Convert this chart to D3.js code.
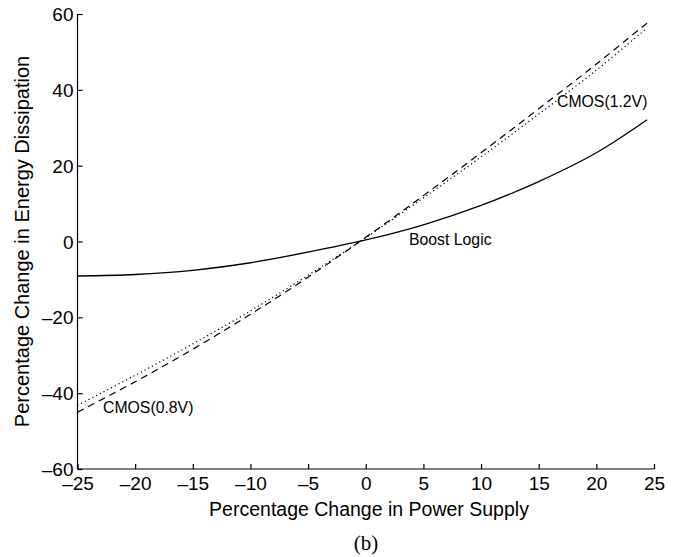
<!DOCTYPE html>
<html>
<head>
<meta charset="utf-8">
<script src="https://cdn.jsdelivr.net/npm/d3@7"></script>
<style>
  body { margin: 0; background: #fff; }
  svg text { font-family: "Liberation Sans", Arial, sans-serif; fill: #000; }
</style>
</head>
<body>
<div id="chart"></div>
<script>
// values
var supply = [-25, -20, -15, -10, -5, 0, 5, 10, 15, 20, 24.4];
var boostLogic = [-9.1, -8.7, -7.6, -5.6, -2.8, 0.4, 4.4, 9.5, 15.8, 23.4, 32.1];
var cmos12 = [-45.0, -37.0, -28.4, -19.2, -9.4, 1.1, 12.1, 23.4, 35.0, 46.8, 57.6];
var cmos08 = [-43.2, -35.3, -27.0, -18.3, -8.9, 1.0, 11.5, 22.3, 33.6, 45.2, 56.3];
var xTicks = [-25, -20, -15, -10, -5, 0, 5, 10, 15, 20, 25];
var yTicks = [-60, -40, -20, 0, 20, 40, 60];

var width = 690, height = 557;
var padL = 77.5, padR = 654, padT = 14, padB = 469;

var svg = d3.select("#chart").append("svg")
  .attr("width", width)
  .attr("height", height);

var x = d3.scaleLinear().domain([-25, 25]).range([padL, padR]);
var y = d3.scaleLinear().domain([-60, 60]).range([padB, padT]);

function fmt(d) { return d < 0 ? "\u2013" + Math.abs(d) : String(d); }

// x axis, ticks pointing inward
var gx = svg.append("g")
  .attr("transform", "translate(0," + padB + ")")
  .call(d3.axisTop(x).tickValues(xTicks).tickSize(5).tickFormat(""));
gx.select(".domain").attr("d", "M" + padL + ",0H" + padR);
gx.selectAll("text").remove();
gx.selectAll(".tick")
  .append("text")
  .attr("y", 21)
  .attr("text-anchor", "middle")
  .attr("font-size", "19px")
  .text(fmt);

// y axis
var gy = svg.append("g")
  .attr("transform", "translate(" + padL + ",0)")
  .call(d3.axisRight(y).tickValues(yTicks).tickSize(5).tickFormat(""));
gy.select(".domain").attr("d", "M0," + padT + "V" + padB);
gy.selectAll("text").remove();
gy.selectAll(".tick")
  .append("text")
  .attr("x", -4)
  .attr("dy", "0.35em")
  .attr("text-anchor", "end")
  .attr("font-size", "19px")
  .text(fmt);

svg.selectAll(".domain, .tick line")
  .attr("stroke", "#000")
  .attr("stroke-width", 1.2);

// axis titles
svg.append("text")
  .attr("x", 369)
  .attr("y", 516)
  .attr("text-anchor", "middle")
  .attr("font-size", "19.5px")
  .text("Percentage Change in Power Supply");

svg.append("text")
  .attr("transform", "translate(29," + y(0) + ") rotate(-90)")
  .attr("text-anchor", "middle")
  .attr("font-size", "20px")
  .text("Percentage Change in Energy Dissipation");

svg.append("text")
  .attr("x", 366)
  .attr("y", 550)
  .attr("text-anchor", "middle")
  .attr("font-size", "21px")
  .style("font-family", "'Liberation Serif', 'Times New Roman', serif")
  .text("(b)");

// curves
var line = d3.line()
  .x(function (d) { return x(d[0]); })
  .y(function (d) { return y(d[1]); })
  .curve(d3.curveCatmullRom);

var series = [
  { vals: boostLogic, dash: null, width: 1.3 },
  { vals: cmos12, dash: "7,5", width: 1.2 },
  { vals: cmos08, dash: "1.2,3", width: 1.2 }
];

svg.selectAll(".curve")
  .data(series)
  .enter()
  .append("path")
  .attr("class", "curve")
  .attr("fill", "none")
  .attr("stroke", "#000")
  .attr("stroke-width", function (d) { return d.width; })
  .attr("stroke-dasharray", function (d) { return d.dash; })
  .attr("d", function (d) {
    return line(supply.map(function (s, i) { return [s, d.vals[i]]; }));
  });

// curve labels
var labels = [
  { text: "CMOS(1.2V)", px: 557, py: 107 },
  { text: "Boost Logic", px: 409, py: 245 },
  { text: "CMOS(0.8V)", px: 103, py: 413 }
];
svg.selectAll(".lbl")
  .data(labels)
  .enter()
  .append("text")
  .attr("class", "lbl")
  .attr("x", function (d) { return d.px; })
  .attr("y", function (d) { return d.py; })
  .attr("font-size", "15.8px")
  .text(function (d) { return d.text; });
</script>
</body>
</html>
